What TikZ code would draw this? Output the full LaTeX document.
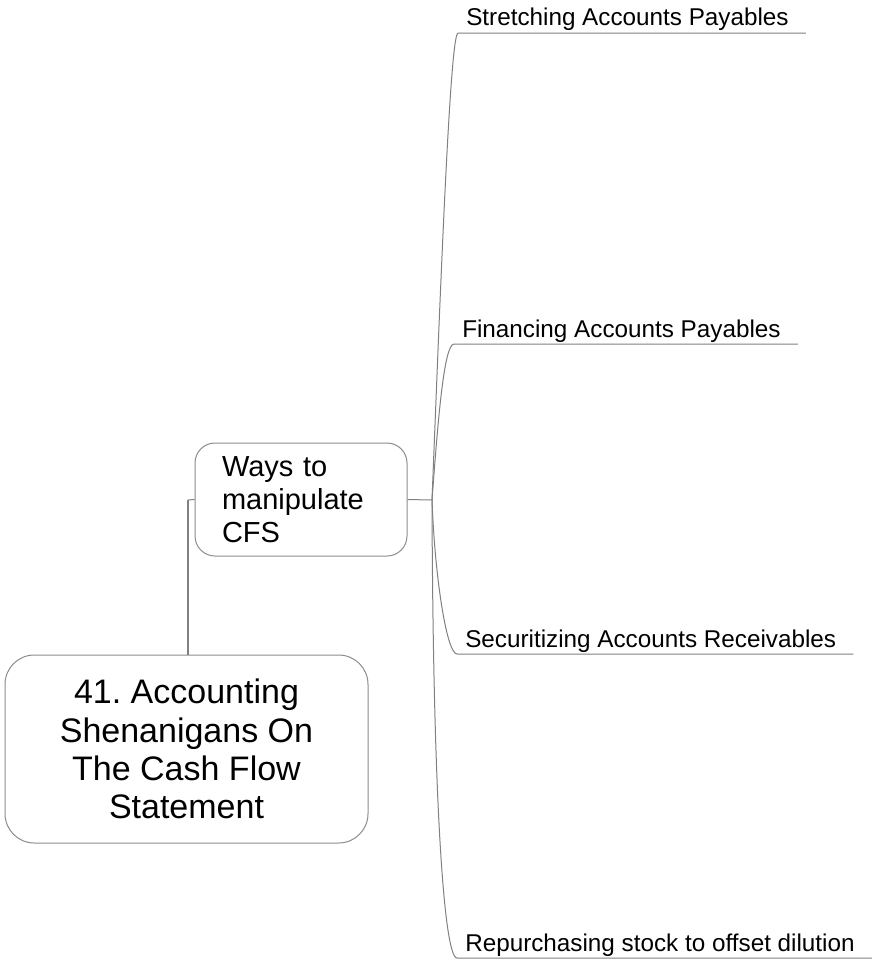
\documentclass[tikz,border=0pt]{standalone}
\usepackage{fontspec}
\setmainfont{Liberation Sans}
\frenchspacing
\usetikzlibrary{calc}
\definecolor{edgegray}{HTML}{808080}
\definecolor{boxgray}{HTML}{8C8C8C}
\begin{document}
\begin{tikzpicture}[x=0.75pt,y=-0.75pt,
  rootbox/.style={draw=boxgray, line width=0.75pt, rounded corners=22pt,
    minimum width=272.25pt, minimum height=141pt, inner sep=0pt,
    align=center, font=\fontsize{25.5pt}{28.7pt}\selectfont},
  subbox/.style={draw=boxgray, line width=0.75pt, rounded corners=15pt,
    minimum width=159pt, minimum height=84.75pt, inner sep=0pt,
    text width=118.5pt, align=left, font=\fontsize{21.75pt}{24.75pt}\selectfont},
  leaf/.style={anchor=base west, inner sep=0pt,
    font=\fontsize{18.2pt}{22pt}\selectfont},
  trunk/.style={draw=edgegray, line width=1.5pt},
  branch/.style={draw=edgegray, line width=0.75pt}]
\useasboundingbox (0,0) rectangle (874,967);

% central topic and its single subtopic
\node[rootbox] (root) at (186.5,749) {41. Accounting\\Shenanigans On\\The Cash Flow\\Statement};
\node[subbox] (ways) at (301,499.5) {Ways to\\manipulate\\CFS};
\draw[trunk] (188,655) -- (188,500);
\draw[branch] (188,500) -- (ways.west);

% branching point to the right of the subtopic
\coordinate (hub) at (432,500);
\draw[branch] (ways.east) -- (hub);

% leaf topics, each with an underline
\node[leaf] (l1) at (466,26) {Stretching Accounts Payables};
\node[leaf] (l2) at (462,337) {Financing Accounts Payables};
\node[leaf] (l3) at (465,647) {Securitizing Accounts Receivables};
\node[leaf] (l4) at (465,951) {Repurchasing stock to offset dilution};

\foreach \n in {l1,l2,l3,l4}{
  \coordinate (\n a) at ($(\n.base west)+(-8,7)$);
  \coordinate (\n b) at ($(\n.base east)+(17,7)$);
}

\draw[branch] (hub) .. controls +(8,-200) and +(-8,0) .. (l1a) -- (l1b);
\draw[branch] (hub) .. controls +(6,-80) and +(-10,0) .. (l2a) -- (l2b);
\draw[branch] (hub) .. controls +(3,80) and +(-10,0) .. (l3a) -- (l3b);
\draw[branch] (hub) .. controls +(1,300) and +(-13,0) .. (l4a) -- (l4b);
\end{tikzpicture}
\end{document}
